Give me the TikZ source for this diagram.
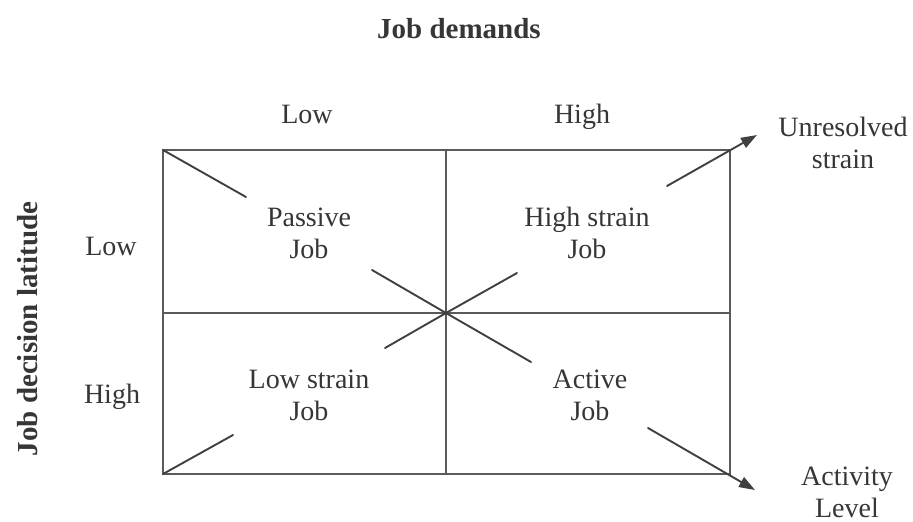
\documentclass[tikz,border=0pt]{standalone}
\usepackage{fontspec}
\setmainfont{Liberation Serif}
\usetikzlibrary{arrows.meta}
\definecolor{txt}{HTML}{363636}
\definecolor{ln}{HTML}{5A5A5A}
\definecolor{dg}{HTML}{404040}
\begin{document}
\begin{tikzpicture}[x=1pt,y=-1pt,
  lbl/.style={text=txt,font=\fontsize{28}{32}\selectfont,inner sep=0pt,align=center},
  ttl/.style={text=txt,font=\fontsize{29}{32}\selectfont\bfseries,inner sep=0pt},
  grid/.style={draw=ln,line width=1.9pt},
  diag/.style={draw=dg,line width=1.9pt,line cap=round},
  arr/.style={diag,-{Triangle[length=16pt,width=11pt]}}]
\useasboundingbox[fill=white] (0,0) rectangle (913,522);
% frame
\coordinate (TL) at (163,150);
\coordinate (TR) at (730,150);
\coordinate (BL) at (163,474);
\coordinate (BR) at (730,474);
\coordinate (TM) at (446,150);
\coordinate (BM) at (446,474);
\coordinate (LM) at (163,313);
\coordinate (RM) at (730,313);
\coordinate (C) at (446,313);
\draw[grid] (TL) rectangle (BR);
\draw[grid] (TM) -- (BM);
\draw[grid] (LM) -- (RM);
% diagonal 1 (top-left to bottom-right)
\coordinate (d1a) at (246,197);
\coordinate (d1b) at (372,270);
\coordinate (d1c) at (531,362);
\coordinate (d1d) at (648,428);
\coordinate (d1e) at (755,490);
\draw[diag] (TL) -- (d1a);
\draw[diag] (d1b) -- (C);
\draw[diag] (C) -- (d1c);
\draw[arr] (d1d) -- (d1e);
% diagonal 2 (bottom-left to top-right)
\coordinate (d2a) at (233,435);
\coordinate (d2b) at (385,348);
\coordinate (d2c) at (517,273);
\coordinate (d2d) at (667,186);
\coordinate (d2e) at (757,135);
\draw[diag] (BL) -- (d2a);
\draw[diag] (d2b) -- (C);
\draw[diag] (C) -- (d2c);
\draw[arr] (d2d) -- (d2e);
% titles
\node[ttl,anchor=base] (title) at (459,38) {Job demands};
\node[ttl,rotate=90] (ytitle) at (28,329) {Job decision latitude};
% axis labels
\node[lbl,anchor=base] (lowx) at (307,123) {Low};
\node[lbl,anchor=base] (highx) at (582,123) {High};
\node[lbl,anchor=base] (lowy) at (111,255) {Low};
\node[lbl,anchor=base] (highy) at (112,403) {High};
% cells
\node[lbl] (passive) at (309,233) {Passive\\Job};
\node[lbl] (highstrain) at (587,233) {High strain\\Job};
\node[lbl] (lowstrain) at (309,395) {Low strain\\Job};
\node[lbl] (active) at (590,395) {Active\\Job};
% outcomes
\node[lbl] (unres) at (843,143) {Unresolved\\strain};
\node[lbl] (activity) at (847,492) {Activity\\Level};
\end{tikzpicture}
\end{document}
